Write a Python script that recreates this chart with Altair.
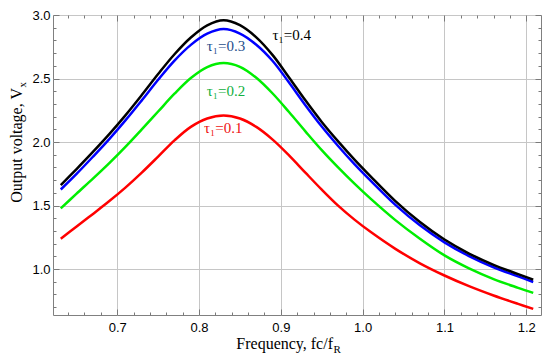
import altair as alt
import pandas as pd

# ---- data ----
freq = [0.631, 0.65, 0.67, 0.69, 0.71, 0.73, 0.75, 0.77, 0.79, 0.81, 0.83, 0.85, 0.87,
        0.89, 0.91, 0.93, 0.95, 0.97, 0.99, 1.01, 1.04, 1.07, 1.10, 1.13, 1.16, 1.19, 1.2085]
v_tau01 = [1.238, 1.333, 1.432, 1.533, 1.641, 1.759, 1.885, 2.013, 2.119, 2.185, 2.209, 2.185,
           2.119, 2.019, 1.895, 1.759, 1.625, 1.499, 1.389, 1.291, 1.159, 1.045, 0.949, 0.865,
           0.7915, 0.7255, 0.6866]
v_tau02 = [1.477, 1.592, 1.71, 1.832, 1.962, 2.10, 2.24, 2.38, 2.504, 2.59, 2.622, 2.592,
           2.506, 2.382, 2.236, 2.084, 1.936, 1.80, 1.672, 1.552, 1.385, 1.238, 1.107, 1.005,
           0.921, 0.852, 0.812]
v_tau03 = [1.626, 1.747, 1.882, 2.021, 2.17, 2.328, 2.49, 2.641, 2.765, 2.853, 2.889, 2.854,
           2.766, 2.638, 2.468, 2.29, 2.122, 1.969, 1.826, 1.694, 1.505, 1.344, 1.21, 1.102,
           1.014, 0.942, 0.898]
v_tau04 = [1.66, 1.785, 1.92, 2.06, 2.21, 2.37, 2.535, 2.691, 2.823, 2.919, 2.959, 2.92,
           2.824, 2.684, 2.508, 2.328, 2.158, 2.005, 1.862, 1.728, 1.535, 1.37, 1.232, 1.122,
           1.033, 0.96, 0.916]

series_names = ["τ1=0.1", "τ1=0.2", "τ1=0.3", "τ1=0.4"]
line_colors = ["#ff0000", "#00ee00", "#0000ff", "#000000"]

label_text = ["τ₁=0.1", "τ₁=0.2", "τ₁=0.3", "τ₁=0.4"]
label_x = [0.806, 0.8095, 0.8095, 0.8898]
label_y = [2.109, 2.40, 2.754, 2.84]
label_colors = ["#ee1111", "#10b040", "#1f4e8c", "#000000"]

x_major = [0.7, 0.8, 0.9, 1.0, 1.1, 1.2]
x_minor = [0.64, 0.66, 0.68, 0.72, 0.74, 0.76, 0.78, 0.82, 0.84, 0.86, 0.88,
           0.92, 0.94, 0.96, 0.98, 1.02, 1.04, 1.06, 1.08, 1.12, 1.14, 1.16, 1.18]
y_major = [1.0, 1.5, 2.0, 2.5, 3.0]
y_minor = [0.7, 0.8, 0.9, 1.1, 1.2, 1.3, 1.4, 1.6, 1.7, 1.8, 1.9, 2.1, 2.2, 2.3,
           2.4, 2.6, 2.7, 2.8, 2.9]

x_title = "Frequency, fc/f"
x_title_sub = "R"
y_title = "Output voltage, V"
y_title_sub = "x"

# ---- tables ----
rows = []
for name, vals in zip(series_names, [v_tau01, v_tau02, v_tau03, v_tau04]):
    for f, v in zip(freq, vals):
        rows.append({"f": f, "v": v, "series": name})
df = pd.DataFrame(rows)

labels_df = pd.DataFrame({"lx": label_x, "ly": label_y, "txt": label_text,
                          "series": series_names})
one = pd.DataFrame({"k": [0]})

xscale = alt.Scale(domain=[0.6215, 1.218], nice=False, zero=False)
yscale = alt.Scale(domain=[0.638, 3.0], nice=False, zero=False)

lines = alt.Chart(df).mark_line(strokeWidth=2.5, interpolate="catmull-rom").encode(
    x=alt.X("f:Q", scale=xscale, axis=alt.Axis(
        values=x_major, format=".1f", grid=True, gridColor="#c6c6c6", gridWidth=1,
        ticks=False, tickSize=0, domain=False, labelPadding=6,
        labelFont="Liberation Sans", labelFontSize=13, labelColor="#000000", title=None)),
    y=alt.Y("v:Q", scale=yscale, axis=alt.Axis(
        values=y_major, format=".1f", grid=True, gridColor="#c6c6c6", gridWidth=1,
        ticks=False, tickSize=0, domain=False, labelPadding=3,
        labelFont="Liberation Sans", labelFontSize=13, labelColor="#000000", title=None)),
    color=alt.Color("series:N", scale=alt.Scale(domain=series_names, range=line_colors),
                    legend=None),
)


def tick_layer(xorient, yorient, xvals, yvals, size):
    common = dict(labels=False, grid=False, domain=False, ticks=True, tickSize=size,
                  offset=-size, tickColor="#7a7a7a", tickWidth=1, title=None)
    return alt.Chart(df).mark_point(opacity=0).encode(
        x=alt.X("f:Q", scale=xscale, axis=alt.Axis(orient=xorient, values=xvals, **common)),
        y=alt.Y("v:Q", scale=yscale, axis=alt.Axis(orient=yorient, values=yvals, **common)),
    )


t1 = tick_layer("bottom", "left", x_minor, y_minor, 3)
t2 = tick_layer("bottom", "left", x_major, y_major, 6)
t3 = tick_layer("top", "right", x_minor, y_minor, 3)
t4 = tick_layer("top", "right", x_major, y_major, 6)

labels = alt.Chart(labels_df).mark_text(
    font="Liberation Serif", fontSize=15, align="left", baseline="middle"
).encode(
    x=alt.X("lx:Q", scale=xscale, axis=None),
    y=alt.Y("ly:Q", scale=yscale, axis=None),
    text="txt:N",
    color=alt.Color("series:N", scale=alt.Scale(domain=series_names, range=label_colors),
                    legend=None),
)

xt = alt.Chart(one).mark_text(font="Liberation Serif", fontSize=16, align="right",
                              baseline="alphabetic", color="#000000").encode(
    x=alt.value(280), y=alt.value(334), text=alt.value(x_title))
xts = alt.Chart(one).mark_text(font="Liberation Serif", fontSize=11, align="left",
                               baseline="alphabetic", color="#000000").encode(
    x=alt.value(280.5), y=alt.value(337.5), text=alt.value(x_title_sub))
yt = alt.Chart(one).mark_text(font="Liberation Serif", fontSize=16, align="right",
                              baseline="alphabetic", angle=270, color="#000000").encode(
    x=alt.value(-31), y=alt.value(73), text=alt.value(y_title))
yts = alt.Chart(one).mark_text(font="Liberation Serif", fontSize=11, align="left",
                               baseline="alphabetic", angle=270, color="#000000").encode(
    x=alt.value(-27.5), y=alt.value(72.5), text=alt.value(y_title_sub))

chart = alt.layer(lines, t1, t2, t3, t4, labels, xt, xts, yt, yts).resolve_axis(
    x="independent", y="independent"
).resolve_scale(color="independent").properties(
    width=488, height=300,
    autosize=alt.AutoSizeParams(type="none"),
    padding={"left": 45, "top": 7, "right": 1, "bottom": 38},
).configure_view(stroke="#808080", strokeWidth=1)

chart.save("out.html", embed_options={"renderer": "svg", "actions": False})
